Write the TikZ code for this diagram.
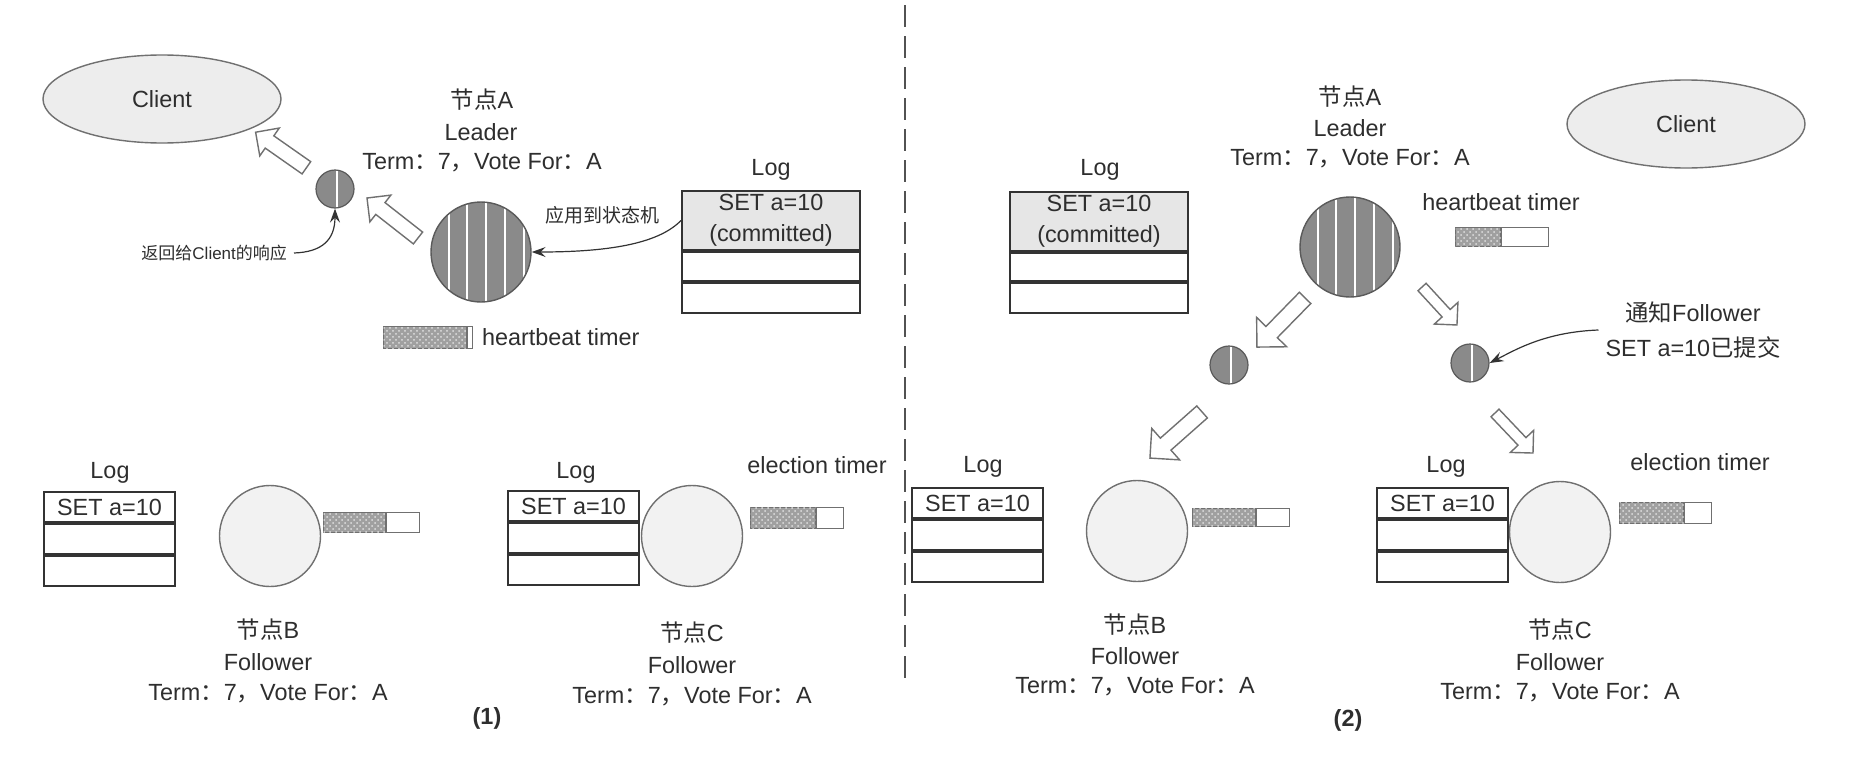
\documentclass[tikz,border=0pt]{standalone}
\usepackage{fontspec}
\setmainfont{Liberation Sans}
\newfontfamily\cjk{Noto Sans CJK SC}
\usetikzlibrary{shapes.geometric,arrows.meta,patterns,calc}
\definecolor{txt}{HTML}{2E2E2E}
\definecolor{lin}{HTML}{333333}
\definecolor{circgray}{HTML}{8A8A8A}
\definecolor{circedge}{HTML}{5A5A5A}
\definecolor{lightfill}{HTML}{F2F2F2}
\definecolor{logfill}{HTML}{E6E6E6}
\definecolor{arrline}{HTML}{707070}
\definecolor{timerfill}{HTML}{A0A0A0}
\newcommand{\zh}[1]{{\cjk #1}}
\newcommand{\termline}{Term\zh{：}7\zh{，}Vote For\zh{：}A}
% block (hollow) arrow: name, x, y, angle, half length, half shaft, half head, head length (all pt)
\newcommand{\blockarrow}[8]{%
  \coordinate (#1) at (#2,#3);
  \draw[blockline, shift={(#1)}, rotate=#4]
    ({-#5pt},{-#6pt}) -- ({#5pt-#8pt},{-#6pt}) -- ({#5pt-#8pt},{-#7pt}) -- ({#5pt},0pt)
    -- ({#5pt-#8pt},{#7pt}) -- ({#5pt-#8pt},{#6pt}) -- ({-#5pt},{#6pt}) -- cycle;}
\begin{document}
\begin{tikzpicture}[x=0.5pt,y=-0.5pt,
  every node/.style={font=\fontsize{11.7}{15.5}\selectfont, text=txt},
  client/.style={ellipse, draw=arrline, line width=0.7pt, fill=logfill!70!white, minimum width=119pt, minimum height=44pt, inner sep=0pt},
  leadercirc/.style={circle, draw=circedge, line width=0.7pt, fill=circgray, minimum size=50pt, inner sep=0pt,
    path picture={\foreach \sx in {-16,-7,2.5,12,21.5}{\draw[white,line width=1pt] ([xshift=\sx pt]path picture bounding box.north) -- ([xshift=\sx pt]path picture bounding box.south);}}},
  msgcirc/.style={circle, draw=circedge, line width=0.6pt, fill=circgray, minimum size=19pt, inner sep=0pt,
    path picture={\draw[white,line width=1pt] ([xshift=1pt]path picture bounding box.north) -- ([xshift=1pt]path picture bounding box.south);}},
  followcirc/.style={circle, draw=arrline, line width=0.7pt, fill=lightfill, minimum size=50.5pt, inner sep=0pt},
  logrow/.style={draw=lin, line width=1pt, inner sep=0pt, anchor=north},
  toprow/.style={logrow, minimum width=89pt},
  botrow/.style={logrow, minimum width=65.5pt, minimum height=15pt},
  blockline/.style={draw=arrline, fill=white, line width=0.7pt, line join=miter},
  thinarr/.style={draw=lin, line width=0.6pt, -{Stealth[length=7pt,width=5pt,inset=2.5pt]}},
  timerfull/.style={draw=arrline, line width=0.5pt, fill=timerfill, postaction={pattern=crosshatch dots, pattern color=white!75!gray}, inner sep=0pt, anchor=west},
  timerempty/.style={draw=arrline, line width=0.5pt, fill=white, inner sep=0pt, anchor=west},
  divline/.style={draw=lin!85, line width=1pt, dash pattern=on 11pt off 4.5pt},
  small/.style={font=\fontsize{9.5}{11}\selectfont},
  smaller/.style={font=\fontsize{8.5}{10}\selectfont},
  caption/.style={font=\fontsize{11.7}{15.5}\selectfont\bfseries}
]
\path[use as bounding box, fill=white] (0,0) rectangle (1852,760);

% ================= Panel (1) =================
\node[client] (cl1) at (162,99) {Client};
\node (a1name) at (482,100) {\zh{节点}A};
\node (a1role) at (481,132) {Leader};
\node (a1term) at (482,163) {\termline};
\node[leadercirc] (A1) at (481,252) {};
\node[msgcirc] (s1) at (335,189) {};
\blockarrow{ar1}{281}{150}{145}{15.5}{3.75}{8.5}{8.5}
\blockarrow{ar2}{392.5}{218}{141.9}{16.2}{3.75}{8.5}{8.5}

\node (lg1lbl) at (771,170) {Log};
\node[toprow, fill=logfill, minimum height=29.5pt, align=center] (lg1a) at (771,190) {SET a=10\\(committed)};
\node[toprow, minimum height=14.5pt] (lg1b) at (lg1a.south) {};
\node[toprow, minimum height=15pt] (lg1c) at (lg1b.south) {};

\node[small] (apply) at (602,215) {\zh{应用到状态机}};
\draw[thinarr] (lg1a.west) .. controls (660,242) and (615,252) .. (A1.east);

\node[smaller, anchor=east] (resp) at (294,253) {\zh{返回给}Client\zh{的响应}};
\draw[thinarr] (resp.east) .. controls (322,252) and (335,240) .. (s1.south);

\node[timerfull, minimum width=41.5pt, minimum height=11pt] (hb1f) at (383,337) {};
\node[timerempty, minimum width=2.5pt, minimum height=11pt] (hb1e) at (hb1f.east) {};
\node[anchor=west] (hb1t) at (475,337) {heartbeat timer};

% follower B (1)
\node (lgB1lbl) at (110,473) {Log};
\node[botrow] (lgB1a) at (109.5,491) {SET a=10};
\node[botrow] (lgB1b) at (lgB1a.south) {};
\node[botrow] (lgB1c) at (lgB1b.south) {};
\node[followcirc] (B1) at (270,536) {};
\node[timerfull, minimum width=31pt, minimum height=10pt] (tB1f) at (323,522) {};
\node[timerempty, minimum width=16.5pt, minimum height=10pt] (tB1e) at (tB1f.east) {};
\node (b1name) at (268,630) {\zh{节点}B};
\node (b1role) at (268,662) {Follower};
\node (b1term) at (268,694) {\termline};

% follower C (1)
\node (lgC1lbl) at (576,473) {Log};
\node[botrow] (lgC1a) at (573.5,490) {SET a=10};
\node[botrow] (lgC1b) at (lgC1a.south) {};
\node[botrow] (lgC1c) at (lgC1b.south) {};
\node[followcirc] (C1) at (692,536) {};
\node (et1) at (817,465) {election timer};
\node[timerfull, minimum width=32.5pt, minimum height=10.5pt] (tC1f) at (750,517.5) {};
\node[timerempty, minimum width=13.5pt, minimum height=10.5pt] (tC1e) at (tC1f.east) {};
\node (c1name) at (692,633) {\zh{节点}C};
\node (c1role) at (692,665) {Follower};
\node (c1term) at (692,697) {\termline};

\node[caption] (p1) at (487,718) {(1)};

% divider
\coordinate (dtop) at (905,5);
\coordinate (dbot) at (905,680);
\draw[divline] (dtop) -- (dbot);

% ================= Panel (2) =================
\node (lg2lbl) at (1100,170) {Log};
\node[toprow, fill=logfill, minimum height=29.5pt, align=center] (lg2a) at (1099,191) {SET a=10\\(committed)};
\node[toprow, minimum height=14pt] (lg2b) at (lg2a.south) {};
\node[toprow, minimum height=15pt] (lg2c) at (lg2b.south) {};

\node (a2name) at (1350,97) {\zh{节点}A};
\node (a2role) at (1350,128) {Leader};
\node (a2term) at (1350,159) {\termline};
\node[leadercirc] (A2) at (1350,247) {};
\node[client] (cl2) at (1686,124) {Client};

\node (hb2t) at (1501,202) {heartbeat timer};
\node[timerfull, minimum width=22.5pt, minimum height=9.5pt] (hb2f) at (1455,236.5) {};
\node[timerempty, minimum width=23.5pt, minimum height=9.5pt] (hb2e) at (hb2f.east) {};

\blockarrow{arA}{1281}{322.5}{225.6}{17.2}{4}{10.5}{10.5}
\blockarrow{arB}{1439.5}{306}{-47.4}{12.9}{2.75}{8}{8}
\node[msgcirc] (s2L) at (1229,365) {};
\node[msgcirc] (s2R) at (1470,363) {};
\blockarrow{arC}{1176}{435}{221.5}{17.4}{4}{10.5}{10.5}
\blockarrow{arD}{1514}{433}{-46.5}{13.8}{2.75}{8}{8}

\node[align=center, font=\fontsize{11.7}{17.5}\selectfont] (note) at (1693,330) {\zh{通知}Follower\\SET a=10\zh{已提交}};
\draw[thinarr] (note.west) .. controls (1545,332) and (1515,350) .. (s2R.east);

% follower B (2)
\node (lgB2lbl) at (983,467) {Log};
\node[botrow] (lgB2a) at (977.5,487) {SET a=10};
\node[botrow] (lgB2b) at (lgB2a.south) {};
\node[botrow] (lgB2c) at (lgB2b.south) {};
\node[followcirc] (B2) at (1137,531) {};
\node[timerfull, minimum width=31.5pt, minimum height=9pt] (tB2f) at (1192,517) {};
\node[timerempty, minimum width=16.5pt, minimum height=9pt] (tB2e) at (tB2f.east) {};
\node (b2name) at (1135,625) {\zh{节点}B};
\node (b2role) at (1135,656) {Follower};
\node (b2term) at (1135,687) {\termline};

% follower C (2)
\node (lgC2lbl) at (1446,467) {Log};
\node[botrow] (lgC2a) at (1442.5,487) {SET a=10};
\node[botrow] (lgC2b) at (lgC2a.south) {};
\node[botrow] (lgC2c) at (lgC2b.south) {};
\node[followcirc] (C2) at (1560,532) {};
\node (et2) at (1700,462) {election timer};
\node[timerfull, minimum width=32pt, minimum height=10.5pt] (tC2f) at (1619,512.5) {};
\node[timerempty, minimum width=13.5pt, minimum height=10.5pt] (tC2e) at (tC2f.east) {};
\node (c2name) at (1560,630) {\zh{节点}C};
\node (c2role) at (1560,662) {Follower};
\node (c2term) at (1560,693) {\termline};

\node[caption] (p2) at (1348,720) {(2)};
\end{tikzpicture}
\end{document}
